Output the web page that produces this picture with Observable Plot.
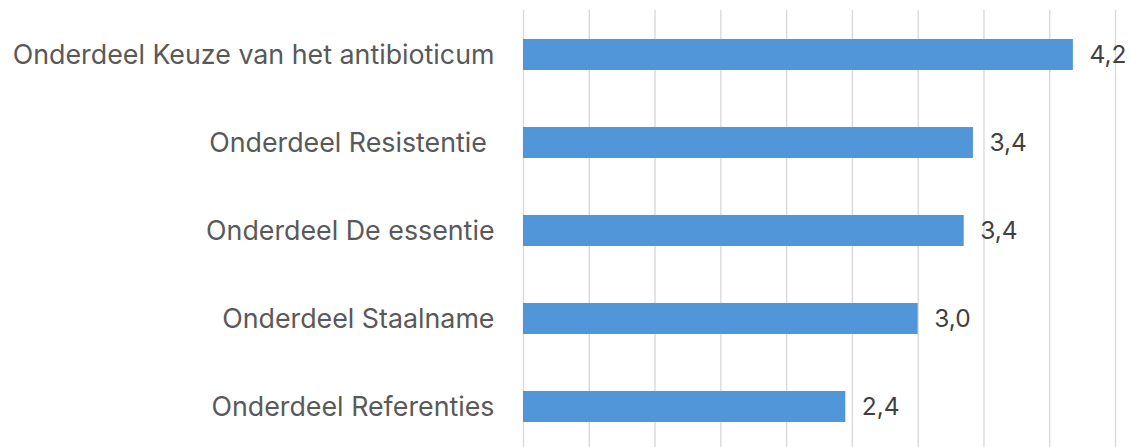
<!DOCTYPE html>
<html>
<head>
<meta charset="utf-8">
<script src="https://cdn.jsdelivr.net/npm/d3@7"></script>
<script src="https://cdn.jsdelivr.net/npm/@observablehq/plot@0.6"></script>
<style>
  html, body { margin: 0; padding: 0; background: #fff; }
  svg text { white-space: pre; }
</style>
</head>
<body>
<div id="chart"></div>
<script>
const categories = [
  "Onderdeel Keuze van het antibioticum",
  "Onderdeel Resistentie ",
  "Onderdeel De essentie",
  "Onderdeel Staalname",
  "Onderdeel Referenties"
];
const values = [4.18, 3.42, 3.35, 3.0, 2.45];
const valueLabels = ["4,2", "3,4", "3,4", "3,0", "2,4"];
const gridTicks = [0, 0.5, 1, 1.5, 2, 2.5, 3, 3.5, 4, 4.5];

const data = categories.map((c, i) => ({category: c, value: values[i], label: valueLabels[i]}));

const chart = Plot.plot({
  width: 1130,
  height: 447,
  marginLeft: 523,
  marginRight: 15,
  marginTop: 10,
  marginBottom: 0,
  style: {fontFamily: "Inter, sans-serif", background: "#fff"},
  x: {domain: [0, 4.5], axis: null},
  y: {domain: categories, range: [9.5, 451], paddingInner: 0.645, paddingOuter: 0.3225, label: null},
  marks: [
    Plot.ruleX(gridTicks, {stroke: "#d9d9d9", strokeWidth: 1.4}),
    Plot.barX(data, {x: "value", y: "category", fill: "#5096d9"}),
    Plot.text(data, {x: "value", y: "category", text: "label", dx: 16, textAnchor: "start", fontSize: 24.5, fill: "#404040"}),
    Plot.axisY({tickSize: 0, tickPadding: 29, fontSize: 26.8, color: "#595959", label: null})
  ]
});
document.getElementById("chart").appendChild(chart);
</script>
</body>
</html>
